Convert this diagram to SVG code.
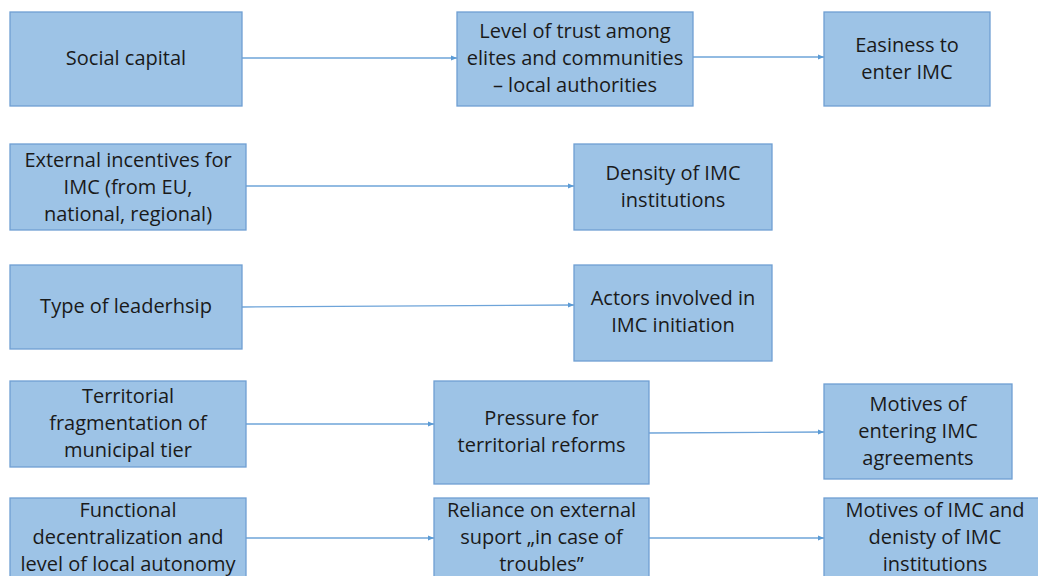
<svg xmlns="http://www.w3.org/2000/svg" width="1038" height="576" viewBox="0 0 1038 576">
<style>
.box{fill:#9dc3e6;stroke:#6f9fd3;stroke-width:1.3}
.t{font-family:"Open Sans","Liberation Sans",sans-serif;font-size:20px;fill:#1a1a1a;text-anchor:middle}
.c{stroke:#6ea4d9;stroke-width:1.3;fill:none;marker-end:url(#ah)}
</style>
<defs>
<marker id="ah" viewBox="0 0 6 6" refX="6" refY="3" markerWidth="6" markerHeight="6" markerUnits="userSpaceOnUse" orient="auto">
<path d="M0,0.5 L6,3 L0,5.5 Z" fill="#5b9bd5"/>
</marker>
</defs>
<rect width="1038" height="576" fill="#fff"/>
<g id="connectors">
<line class="c" x1="242" y1="58" x2="457" y2="58"/>
<line class="c" x1="693" y1="57" x2="824" y2="57"/>
<line class="c" x1="246" y1="186" x2="574" y2="186"/>
<line class="c" x1="242" y1="307" x2="574" y2="305"/>
<line class="c" x1="246" y1="424" x2="434" y2="424"/>
<line class="c" x1="649" y1="433" x2="824" y2="432"/>
<line class="c" x1="246" y1="538" x2="434" y2="538"/>
<line class="c" x1="649" y1="538" x2="824" y2="538"/>
</g>
<g id="n1"><rect class="box" x="10" y="12" width="232" height="94"/><text class="t" x="126" y="65">Social capital</text></g>
<g id="n2"><rect class="box" x="457" y="12" width="236" height="94"/><text class="t" x="575" y="38">Level of trust among</text><text class="t" x="575" y="65">elites and communities</text><text class="t" x="575" y="92">– local authorities</text></g>
<g id="n3"><rect class="box" x="824" y="12" width="166" height="94"/><text class="t" x="907" y="51.5">Easiness to</text><text class="t" x="907" y="78.5">enter IMC</text></g>
<g id="n4"><rect class="box" x="10" y="144" width="236" height="86"/><text class="t" x="128" y="166.5">External incentives for</text><text class="t" x="128" y="193.5">IMC (from EU,</text><text class="t" x="128" y="220.5">national, regional)</text></g>
<g id="n5"><rect class="box" x="574" y="144" width="198" height="86"/><text class="t" x="673" y="179.5">Density of IMC</text><text class="t" x="673" y="206.5">institutions</text></g>
<g id="n6"><rect class="box" x="10" y="265" width="232" height="84"/><text class="t" x="126" y="313">Type of leaderhsip</text></g>
<g id="n7"><rect class="box" x="574" y="265" width="198" height="96"/><text class="t" x="673" y="305">Actors involved in</text><text class="t" x="673" y="332">IMC initiation</text></g>
<g id="n8"><rect class="box" x="10" y="381" width="236" height="86"/><text class="t" x="128" y="403">Territorial</text><text class="t" x="128" y="430">fragmentation of</text><text class="t" x="128" y="457">municipal tier</text></g>
<g id="n9"><rect class="box" x="434" y="381" width="215" height="103"/><text class="t" x="541.5" y="425">Pressure for</text><text class="t" x="541.5" y="452">territorial reforms</text></g>
<g id="n10"><rect class="box" x="824" y="384" width="188" height="95"/><text class="t" x="918" y="410.5">Motives of</text><text class="t" x="918" y="437.5">entering IMC</text><text class="t" x="918" y="464.5">agreements</text></g>
<g id="n11"><rect class="box" x="10" y="498" width="236" height="82"/><text class="t" x="128" y="517">Functional</text><text class="t" x="128" y="544">decentralization and</text><text class="t" x="128" y="571">level of local autonomy</text></g>
<g id="n12"><rect class="box" x="434" y="498" width="215" height="82"/><text class="t" x="541.5" y="517">Reliance on external</text><text class="t" x="541.5" y="544">suport „in case of</text><text class="t" x="541.5" y="571">troubles”</text></g>
<g id="n13"><rect class="box" x="824" y="498" width="222" height="82"/><text class="t" x="935" y="517">Motives of IMC and</text><text class="t" x="935" y="544">denisty of IMC</text><text class="t" x="935" y="571">institutions</text></g>
</svg>
